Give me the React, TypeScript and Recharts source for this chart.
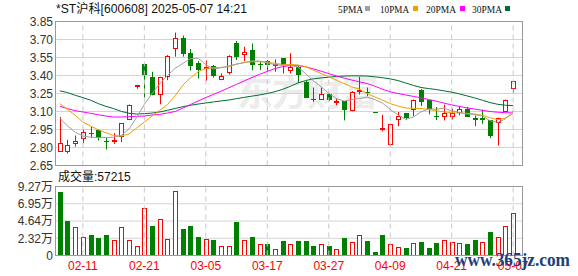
import React from 'react';
import { ComposedChart, Bar, Line, XAxis, YAxis, CartesianGrid, ReferenceLine } from 'recharts';

// 交易日
const dates = [
  '02-06', '02-07', '02-10', '02-11', '02-12', '02-13', '02-14', '02-17', '02-18', '02-19',
  '02-20', '02-21', '02-24', '02-25', '02-26', '02-27', '02-28', '03-03', '03-04', '03-05',
  '03-06', '03-07', '03-10', '03-11', '03-12', '03-13', '03-14', '03-17', '03-18', '03-19',
  '03-20', '03-21', '03-24', '03-25', '03-26', '03-27', '03-28', '03-31', '04-01', '04-02',
  '04-03', '04-07', '04-08', '04-09', '04-10', '04-11', '04-14', '04-15', '04-16', '04-17',
  '04-18', '04-21', '04-22', '04-23', '04-24', '04-25', '04-28', '04-29', '05-06', '05-07',
];

const opens = [
  2.77, 2.77, 2.836, 2.878, 2.92, 2.948, 2.856, 2.856, 2.895, 3.04,
  3.318, 3.492, 3.389, 3.249, 3.397, 3.627, 3.71, 3.585, 3.501, 3.462,
  3.479, 3.375, 3.431, 3.668, 3.576, 3.611, 3.498, 3.525, 3.49, 3.543,
  3.445, 3.473, 3.342, 3.202, 3.202, 3.244, 3.185, 3.185, 3.11, 3.275,
  3.261, 3.092, 2.959, 2.83, 3.04, 3.087, 3.124, 3.283, 3.194, 3.06,
  3.062, 3.062, 3.096, 3.124, 3.048, 3.048, 3.026, 3.012, 3.101, 3.297,
];
const highs = [
  3.055, 2.864, 2.9, 2.948, 2.979, 2.95, 2.88, 2.92, 3.004, 3.158,
  3.322, 3.495, 3.431, 3.389, 3.57, 3.758, 3.733, 3.621, 3.52, 3.526,
  3.487, 3.417, 3.568, 3.688, 3.64, 3.667, 3.52, 3.53, 3.534, 3.545,
  3.585, 3.478, 3.356, 3.3, 3.3, 3.25, 3.208, 3.187, 3.269, 3.389,
  3.3, 3.092, 3.073, 2.998, 3.096, 3.088, 3.2, 3.286, 3.195, 3.138,
  3.157, 3.124, 3.143, 3.138, 3.068, 3.115, 3.027, 3.048, 3.2, 3.353,
];
const lows = [
  2.77, 2.75, 2.808, 2.836, 2.88, 2.858, 2.783, 2.83, 2.844, 3.035,
  3.29, 3.216, 3.235, 3.16, 3.361, 3.557, 3.557, 3.44, 3.375, 3.356,
  3.383, 3.361, 3.409, 3.529, 3.52, 3.443, 3.445, 3.431, 3.431, 3.417,
  3.417, 3.339, 3.216, 3.18, 3.202, 3.188, 3.152, 3.026, 3.101, 3.241,
  3.227, 3.09, 2.934, 2.811, 2.978, 3.032, 3.06, 3.146, 3.076, 3.029,
  3.026, 3.034, 3.068, 3.054, 2.978, 2.998, 2.878, 2.817, 3.101, 3.255,
];
const closes = [
  2.836, 2.822, 2.853, 2.928, 2.914, 2.878, 2.85, 2.861, 3.004, 3.154,
  3.322, 3.403, 3.235, 3.389, 3.565, 3.71, 3.579, 3.479, 3.445, 3.467,
  3.395, 3.4, 3.565, 3.557, 3.593, 3.485, 3.49, 3.487, 3.498, 3.487,
  3.473, 3.403, 3.216, 3.196, 3.244, 3.194, 3.191, 3.11, 3.263, 3.28,
  3.255, 3.09, 2.965, 2.998, 3.06, 3.048, 3.199, 3.18, 3.118, 3.054,
  3.087, 3.087, 3.118, 3.054, 3.026, 3.026, 2.892, 3.048, 3.199, 3.353,
];

// 成交量（手）与涨跌
const volumes = [
  85100, 47000, 38000, 25500, 26900, 23800, 26900, 20200, 38000, 20200,
  12100, 64100, 40300, 49300, 22400, 86000, 35800, 39000, 24600, 22400,
  20200, 12500, 12500, 44800, 21100, 24600, 15700, 14800, 9000, 19300,
  15700, 19300, 19300, 12100, 15700, 13400, 9000, 23800, 17900, 26900,
  19300, 4500, 28200, 15700, 11200, 10300, 17000, 18800, 10300, 17000,
  20200, 17900, 16600, 14800, 20200, 18800, 31400, 25500, 39000, 57215,
];
const volUp = [
  0, 0, 1, 1, 0, 0, 0, 1, 1, 1,
  1, 1, 0, 1, 1, 1, 0, 0, 0, 1,
  0, 1, 1, 0, 1, 0, 1, 0, 1, 0,
  1, 0, 0, 0, 1, 0, 1, 0, 1, 1,
  0, 0, 0, 1, 1, 0, 1, 0, 0, 0,
  1, 1, 1, 0, 0, 1, 0, 1, 1, 1,
];

// 均线
const ma5 = [
  3.046, 2.979, 2.928, 2.895, 2.886, 2.883, 2.883, 2.886, 2.9, 2.955,
  3.05, 3.16, 3.25, 3.33, 3.4, 3.46, 3.5, 3.54, 3.545, 3.49,
  3.455, 3.465, 3.48, 3.495, 3.506, 3.522, 3.52, 3.506, 3.49, 3.484,
  3.485, 3.47, 3.415, 3.355, 3.306, 3.251, 3.208, 3.187, 3.2, 3.208,
  3.22, 3.199, 3.17, 3.117, 3.073, 3.035, 3.054, 3.097, 3.12, 3.12,
  3.128, 3.105, 3.093, 3.08, 3.074, 3.062, 3.023, 3.009, 3.038, 3.104,
];
const ma10 = [
  3.166, 3.118, 3.068, 3.012, 2.979, 2.948, 2.923, 2.9, 2.895, 2.914,
  2.962, 3.012, 3.062, 3.11, 3.157, 3.23, 3.319, 3.381, 3.431, 3.459,
  3.465, 3.467, 3.473, 3.495, 3.509, 3.515, 3.515, 3.512, 3.501, 3.492,
  3.492, 3.488, 3.473, 3.445, 3.417, 3.389, 3.361, 3.333, 3.305, 3.286,
  3.249, 3.222, 3.194, 3.166, 3.146, 3.129, 3.127, 3.124, 3.118, 3.107,
  3.096, 3.09, 3.087, 3.085, 3.079, 3.068, 3.048, 3.032, 3.046, 3.082,
];
const ma20 = [
  3.143, 3.124, 3.107, 3.096, 3.085, 3.073, 3.062, 3.054, 3.054, 3.057,
  3.06, 3.062, 3.071, 3.076, 3.087, 3.1, 3.128, 3.158, 3.188, 3.216,
  3.243, 3.27, 3.298, 3.326, 3.355, 3.383, 3.41, 3.434, 3.458, 3.474,
  3.482, 3.482, 3.472, 3.455, 3.436, 3.416, 3.395, 3.378, 3.362, 3.347,
  3.333, 3.311, 3.286, 3.264, 3.25, 3.238, 3.226, 3.214, 3.2, 3.186,
  3.17, 3.155, 3.142, 3.13, 3.12, 3.11, 3.1, 3.094, 3.09, 3.088,
];
const ma30 = [
  3.272, 3.258, 3.235, 3.216, 3.194, 3.166, 3.143, 3.124, 3.101, 3.085,
  3.079, 3.082, 3.087, 3.096, 3.11, 3.125, 3.14, 3.152, 3.162, 3.171,
  3.18, 3.188, 3.196, 3.207, 3.218, 3.228, 3.238, 3.25, 3.265, 3.285,
  3.31, 3.338, 3.358, 3.372, 3.38, 3.386, 3.392, 3.395, 3.397, 3.397,
  3.395, 3.389, 3.381, 3.372, 3.358, 3.338, 3.318, 3.3, 3.291, 3.283,
  3.272, 3.261, 3.247, 3.23, 3.213, 3.194, 3.174, 3.16, 3.152, 3.149,
];

const priceTicks = [2.65, 2.8, 2.95, 3.1, 3.25, 3.4, 3.55, 3.7, 3.85];
const volTicks = [0, 23175, 46350, 69525, 92700];
const dateTicks = ['02-11', '02-21', '03-05', '03-17', '03-27', '04-09', '04-21', '05-07'];

const RED = '#ff0000';
const GREEN = '#008000';
const FONT = "'Liberation Sans', 'Noto Sans CJK SC', sans-serif";

const data = dates.map((d, i) => ({
  date: d,
  range: [lows[i], highs[i]],
  open: opens[i],
  high: highs[i],
  low: lows[i],
  close: closes[i],
  vol: volumes[i],
  up: volUp[i],
  ma5: ma5[i],
  ma10: ma10[i],
  ma20: ma20[i],
  ma30: ma30[i],
}));

const Candle = (props: any) => {
  const { x, y, width, height, payload } = props;
  const top = Math.min(y, y + height);
  const bot = Math.max(y, y + height);
  const { open, close, high, low } = payload;
  const span = high - low;
  const py = (p: number) => (span > 0 ? top + ((high - p) / span) * (bot - top) : top);
  const cx = Math.round(x + width / 2) + 0.5;
  const bTop = Math.round(py(Math.max(open, close)));
  const bBot = Math.round(py(Math.min(open, close)));
  if (close >= open) {
    const h = Math.max(bBot - bTop, 1);
    return (
      <g>
        <line x1={cx} x2={cx} y1={top} y2={bTop + 0.5} stroke={RED} />
        <line x1={cx} x2={cx} y1={bTop + h + 0.5} y2={bot} stroke={RED} />
        <rect x={cx - 2} y={bTop + 0.5} width={4} height={h} fill="#fff" stroke={RED} />
      </g>
    );
  }
  return (
    <g>
      <line x1={cx} x2={cx} y1={top} y2={bot} stroke={GREEN} />
      <rect x={cx - 2.5} y={bTop} width={5} height={Math.max(bBot - bTop, 1)} fill={GREEN} />
    </g>
  );
};

const VolBar = (props: any) => {
  const { x, y, width, height, payload } = props;
  const cx = Math.round(x + width / 2) + 0.5;
  const top = Math.round(y);
  const bot = Math.round(y + height);
  if (payload.up) {
    return <rect x={cx - 2} y={top + 0.5} width={4} height={Math.max(bot - top - 1, 1)} fill="#fff" stroke={RED} />;
  }
  return <rect x={cx - 2.5} y={top} width={5} height={bot - top} fill={GREEN} />;
};

const fmtVol = (v: number) => (v === 0 ? '0' : (Math.round(v / 100) / 100).toFixed(2) + '万');

const dateLines = dateTicks.map((d) => (
  <ReferenceLine key={d} x={d} stroke="#c8c8c8" strokeDasharray="5 4" ifOverflow="visible" />
));

export default function App() {
  return (
    <div style={{ position: 'absolute', left: 0, top: 0, width: 578, height: 276, background: '#fff', overflow: 'hidden' }}>
      <svg width={578} height={276} style={{ position: 'absolute', left: 0, top: 0 }}>
        <text x={237} y={106} fontSize={36} fontWeight="bold" fill="#ececec" textLength={141} fontFamily={FONT}>
          东方财富
        </text>
      </svg>
      <div style={{ position: 'absolute', left: 0, top: 0 }}>
        <ComposedChart width={578} height={176} data={data} margin={{ top: 21.5, right: 56, bottom: 10.5, left: 6 }}>
          <CartesianGrid horizontal vertical={false} stroke="#d4d4d4" />
          <XAxis dataKey="date" type="category" hide interval={0} padding={{ left: 0, right: 5 }} />
          <YAxis
            domain={[2.65, 3.85]}
            ticks={priceTicks}
            interval={0}
            width={50}
            tickLine={false}
            axisLine={false}
            tickSize={0}
            tickMargin={3}
            tickFormatter={(v: number) => v.toFixed(2)}
            tick={{ fontSize: 12, fill: '#333', fontFamily: FONT }}
          />
          {dateLines}
          <Line dataKey="ma30" stroke="#006e33" strokeWidth={1} dot={false} isAnimationActive={false} />
          <Line dataKey="ma20" stroke="#ff00ff" strokeWidth={1} dot={false} isAnimationActive={false} />
          <Line dataKey="ma10" stroke="#f2a000" strokeWidth={1} dot={false} isAnimationActive={false} />
          <Line dataKey="ma5" stroke="#a0a0a0" strokeWidth={1} dot={false} isAnimationActive={false} />
          <Bar dataKey="range" shape={Candle} isAnimationActive={false} />
        </ComposedChart>
      </div>
      <div style={{ position: 'absolute', left: 0, top: 170 }}>
        <ComposedChart width={578} height={106} data={data} margin={{ top: 16.5, right: 56, bottom: 0.5, left: 6 }}>
          <CartesianGrid horizontal vertical={false} stroke="#d4d4d4" />
          <XAxis
            dataKey="date"
            type="category"
            ticks={dateTicks}
            interval={0}
            height={20}
            padding={{ left: 0, right: 5 }}
            tickLine={false}
            axisLine={false}
            tickSize={0}
            tickMargin={6}
            tick={{ fontSize: 12, fill: RED, fontFamily: FONT }}
          />
          <YAxis
            domain={[0, 92700]}
            ticks={volTicks}
            interval={0}
            width={50}
            tickLine={false}
            axisLine={false}
            tickSize={0}
            tickMargin={3}
            tickFormatter={fmtVol}
            tick={{ fontSize: 12, fill: '#333', fontFamily: FONT }}
          />
          {dateLines}
          <Bar dataKey="vol" shape={VolBar} isAnimationActive={false} />
        </ComposedChart>
      </div>
      <svg width={578} height={276} style={{ position: 'absolute', left: 0, top: 0, pointerEvents: 'none' }}>
        <rect x={55.5} y={21.5} width={467} height={144} fill="none" stroke="#999" />
        <rect x={55.5} y={186.5} width={467} height={69} fill="none" stroke="#999" />
        <text x={56} y={13} fontSize={12} fill="#111" fontFamily={FONT} textLength={191} lengthAdjust="spacingAndGlyphs">
          *ST沪科[600608] 2025-05-07 14:21
        </text>
        <g fontSize={11} fill="#111" fontFamily="'Liberation Serif', serif">
          <text x={338} y={12.5} textLength={25} lengthAdjust="spacingAndGlyphs">5PMA</text>
          <rect x={365} y={6} width={5} height={5} fill="#a0a0a0" />
          <text x={380} y={12.5} textLength={29} lengthAdjust="spacingAndGlyphs">10PMA</text>
          <rect x={413} y={6} width={5} height={5} fill="#f2a000" />
          <text x={426} y={12.5} textLength={30} lengthAdjust="spacingAndGlyphs">20PMA</text>
          <rect x={460} y={6} width={5} height={5} fill="#ff00ff" />
          <text x={472} y={12.5} textLength={30} lengthAdjust="spacingAndGlyphs">30PMA</text>
          <rect x={505} y={6} width={5} height={5} fill="#006e33" />
        </g>
        <text x={58} y={181} fontSize={12} fill="#111" fontFamily={FONT}>
          成交量:{volumes[volumes.length - 1]}
        </text>
        <text x={455} y={266} fontSize={18} fontWeight={600} fill="#233d7b" fontFamily="'Liberation Serif', serif" textLength={115} lengthAdjust="spacingAndGlyphs">
          www.365jz.com
        </text>
      </svg>
    </div>
  );
}
